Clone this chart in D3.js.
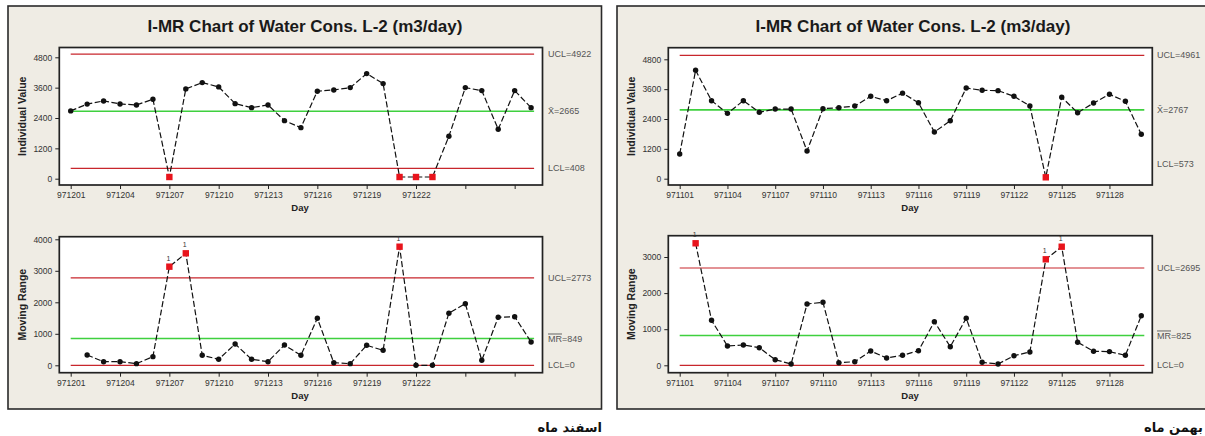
<!DOCTYPE html>
<html><head><meta charset="utf-8">
<script src="https://cdn.jsdelivr.net/npm/d3@7"></script>
<style>html,body{margin:0;padding:0;background:#fff;}svg{display:block;}</style>
</head><body>
<script>
// ---------- DATA ----------
const chartTitle = "I-MR Chart of Water Cons. L-2 (m3/day)";
const esfandDays = ["971201","971202","971203","971204","971205","971206","971207","971208","971209","971210",
  "971211","971212","971213","971214","971215","971216","971217","971218","971219","971220",
  "971221","971222","971223","971224","971225","971226","971227","971228","971229"];
const esfandIndividual = [2680, 2950, 3075, 2956, 2916, 3142, 67, 3550, 3800, 3629, 2968, 2810, 2916, 2295, 2018,
  3459, 3510, 3601, 4155, 3760, 67, 67, 67, 1677, 3601, 3483, 1955, 3483, 2810];
const esfandMR = [null, 327, 115, 115, 52, 274, 3131, 3555, 317, 190, 676, 190, 115, 644, 317,
  1492, 83, 52, 635, 476, 3765, 0, 0, 1651, 1956, 159, 1524, 1543, 740];
const esfandTickLabels = ["971201","971204","971207","971210","971213","971216","971219","971222","",""];
const esfandLimitsI = {ucl: 4922, center: 2665, lcl: 408};
const esfandLimitsMR = {ucl: 2773, center: 849, lcl: 0};
const esfandCaption = "اسفند ماه";

const bahmanDays = ["971101","971102","971103","971104","971105","971106","971107","971108","971109","971110",
  "971111","971112","971113","971114","971115","971116","971117","971118","971119","971120",
  "971121","971122","971123","971124","971125","971126","971127","971128","971129","971130"];
const bahmanIndividual = [993, 4357, 3135, 2628, 3135, 2669, 2801, 2801, 1113, 2814, 2854, 2922, 3312, 3135, 3440,
  3055, 1877, 2331, 3645, 3553, 3540, 3312, 2922, 56, 3272, 2653, 3042, 3392, 3111, 1785];
const bahmanMR = [null, 3380, 1246, 535, 562, 488, 155, 36, 1698, 1745, 72, 100, 396, 202, 277,
  404, 1208, 515, 1302, 83, 36, 266, 368, 2936, 3285, 637, 388, 379, 277, 1374];
const bahmanTickLabels = ["971101","971104","971107","971110","971113","971116","971119","971122","971125","971128"];
const bahmanLimitsI = {ucl: 4961, center: 2767, lcl: 573};
const bahmanLimitsMR = {ucl: 2695, center: 825, lcl: 0};
const bahmanCaption = "بهمن ماه";

const iTicks = [0, 1200, 2400, 3600, 4800];
const esfandMRTicks = [0, 1000, 2000, 3000, 4000];
const bahmanMRTicks = [0, 1000, 2000, 3000];

// ---------- LAYOUT ----------
const W = 1205, H = 436;
const svg = d3.select("body").append("svg").attr("width", W).attr("height", H);
svg.append("rect").attr("width", W).attr("height", H).attr("fill", "#ffffff");

const panels = [
  {frame: [8, 6, 601.5, 409], titleX: 305, captionX: 602, caption: esfandCaption,
   days: esfandDays, tickLabels: esfandTickLabels,
   xRange: [70.7, 531.1], plotX: [59.3, 542.5], limitX: 548, yTitleX: 22, dayX: 300,
   charts: [
     {values: esfandIndividual, limits: esfandLimitsI, ticks: iTicks, domain: [0, 4800], range: [178.7, 57.3],
      plotY: [47.5, 185], title: "Individual Value", mr: false, drawLcl: true,
      labels: ["UCL=4922", "X̄=2665", "LCL=408"]},
     {values: esfandMR, limits: esfandLimitsMR, ticks: esfandMRTicks, domain: [0, 4000], range: [365.3, 239.3],
      plotY: [236.7, 372.7], title: "Moving Range", mr: true, drawLcl: true,
      labels: ["UCL=2773", "MR=849", "LCL=0"]}
   ]},
  {frame: [617, 6, 1215, 409], titleX: 913, captionX: 1203, caption: bahmanCaption,
   days: bahmanDays, tickLabels: bahmanTickLabels,
   xRange: [679.7, 1141.3], plotX: [668.3, 1152.3], limitX: 1157, yTitleX: 631, dayX: 910,
   charts: [
     {values: bahmanIndividual, limits: bahmanLimitsI, ticks: iTicks, domain: [0, 4800], range: [178.7, 59.3],
      plotY: [47.7, 185], title: "Individual Value", mr: false, drawLcl: false,
      labels: ["UCL=4961", "X̄=2767", "LCL=573"]},
     {values: bahmanMR, limits: bahmanLimitsMR, ticks: bahmanMRTicks, domain: [0, 3000], range: [365.3, 257],
      plotY: [235.7, 372.7], title: "Moving Range", mr: true, drawLcl: true,
      labels: ["UCL=2695", "MR=825", "LCL=0"]}
   ]}
];

const RED = "#c8262c", GREEN = "#3fd03f", BG = "#efece4";
const FONT = "'Liberation Sans', Arial, sans-serif";

panels.forEach(p => {
  const [fx0, fy0, fx1, fy1] = p.frame;
  svg.append("rect").attr("x", fx0).attr("y", fy0).attr("width", fx1 - fx0).attr("height", fy1 - fy0)
    .attr("fill", BG).attr("stroke", "#2a2a2a").attr("stroke-width", 1.6);

  svg.append("text").attr("x", p.titleX).attr("y", 32).attr("text-anchor", "middle")
    .attr("font-family", FONT).attr("font-weight", "bold").attr("font-size", 17).attr("fill", "#1a1a1a")
    .text(chartTitle);

  svg.append("text").attr("x", p.captionX).attr("y", 432).attr("text-anchor", "end")
    .attr("font-family", "'DejaVu Sans', sans-serif").attr("font-weight", "bold").attr("font-size", 13).attr("fill", "#111")
    .text(p.caption);

  const x = d3.scaleLinear().domain([0, p.days.length - 1]).range(p.xRange);
  const tickIdx = p.tickLabels.map((_, i) => i * 3);

  p.charts.forEach(c => {
    const y = d3.scaleLinear().domain(c.domain).range(c.range);
    const [px0, px1] = p.plotX, [py0, py1] = c.plotY;
    const g = svg.append("g");

    g.append("rect").attr("x", px0).attr("y", py0).attr("width", px1 - px0).attr("height", py1 - py0)
      .attr("fill", "#ffffff").attr("stroke", "#222").attr("stroke-width", 1.7);

    // x axis
    const xAxis = d3.axisBottom(x).tickValues(tickIdx).tickSize(4).tickPadding(3)
      .tickFormat((d, i) => p.tickLabels[i]);
    const xg = g.append("g").attr("transform", `translate(0,${py1})`).call(xAxis);
    xg.select(".domain").remove();
    xg.selectAll("line").attr("stroke", "#222");
    xg.selectAll("text").attr("font-family", FONT).attr("font-size", 8.5).attr("fill", "#333");

    // y axis
    const yAxis = d3.axisLeft(y).tickValues(c.ticks).tickSize(4).tickPadding(3).tickFormat(d3.format("d"));
    const yg = g.append("g").attr("transform", `translate(${px0},0)`).call(yAxis);
    yg.select(".domain").remove();
    yg.selectAll("line").attr("stroke", "#222");
    yg.selectAll("text").attr("font-family", FONT).attr("font-size", 8.5).attr("fill", "#333");

    // control lines
    const lx0 = x.range()[0], lx1 = x.range()[1] + 3;
    const lines = [{v: c.limits.ucl, col: RED, draw: true}, {v: c.limits.center, col: GREEN, draw: true},
                   {v: c.limits.lcl, col: RED, draw: c.drawLcl}];
    lines.forEach((l, i) => {
      if (l.draw) {
        g.append("line").attr("x1", lx0).attr("x2", lx1).attr("y1", y(l.v)).attr("y2", y(l.v))
          .attr("stroke", l.col).attr("stroke-width", i === 1 ? 1.6 : 1.2);
      }
      const t = g.append("text").attr("x", p.limitX).attr("y", y(l.v) + 3)
        .attr("font-family", FONT).attr("font-size", 9).attr("fill", "#555");
      const lab = c.labels[i];
      if (c.mr && i === 1) {
        t.append("tspan").attr("text-decoration", "overline").text("MR");
        t.append("tspan").text(lab.slice(2));
      } else {
        t.text(lab);
      }
    });

    // data line
    const pts = c.values.map((v, i) => ({i, v})).filter(d => d.v != null);
    const line = d3.line().x(d => x(d.i)).y(d => y(d.v));
    g.append("path").datum(pts).attr("d", line).attr("fill", "none")
      .attr("stroke", "#111").attr("stroke-width", 1.2).attr("stroke-dasharray", "6,2.5");

    const isOut = d => d.v > c.limits.ucl || (c.limits.lcl > 0 && d.v < c.limits.lcl);
    g.selectAll("circle.pt").data(pts.filter(d => !isOut(d))).join("circle")
      .attr("cx", d => x(d.i)).attr("cy", d => y(d.v)).attr("r", 2.7).attr("fill", "#111");
    const out = pts.filter(isOut);
    g.selectAll("rect.pt").data(out).join("rect")
      .attr("x", d => x(d.i) - 3.2).attr("y", d => y(d.v) - 3.2).attr("width", 6.4).attr("height", 6.4)
      .attr("fill", "#e8141c");
    if (c.mr) {
      g.selectAll("text.flag").data(out).join("text")
        .attr("x", d => x(d.i) - 1).attr("y", d => y(d.v) - 6).attr("text-anchor", "middle")
        .attr("font-family", FONT).attr("font-size", 7).attr("fill", "#333").text("1");
    }

    // axis titles
    g.append("text").attr("transform", `translate(${p.yTitleX},${(py0 + py1) / 2}) rotate(-90)`)
      .attr("text-anchor", "middle").attr("dy", "0.35em")
      .attr("font-family", FONT).attr("font-weight", "bold").attr("font-size", 10.5).attr("fill", "#222")
      .text(c.title);
    g.append("text").attr("x", p.dayX).attr("y", py1 + 26).attr("text-anchor", "middle")
      .attr("font-family", FONT).attr("font-weight", "bold").attr("font-size", 9.5).attr("fill", "#222")
      .text("Day");
  });
});
</script>
</body></html>
